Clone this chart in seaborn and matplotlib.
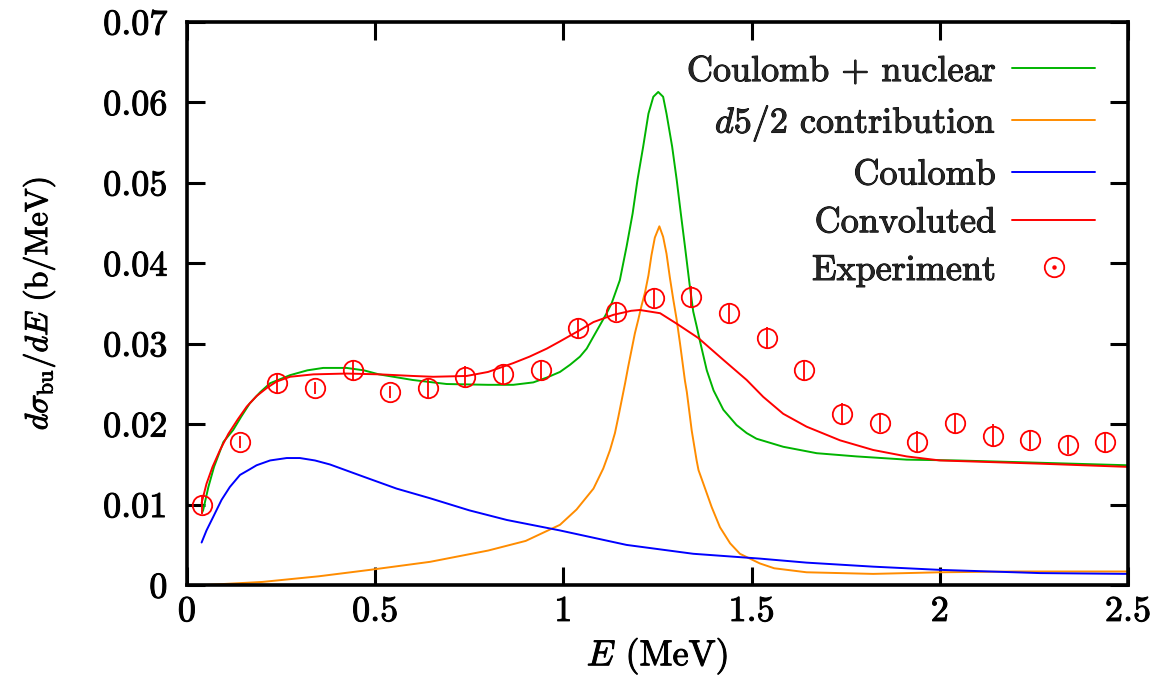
import numpy as np
import pandas as pd
import matplotlib
matplotlib.use("Agg")
import matplotlib.pyplot as plt
import matplotlib.patheffects as pe
import seaborn as sns
from matplotlib.lines import Line2D
from matplotlib.legend_handler import HandlerTuple

# ---- data -------------------------------------------------------------
# Coulomb + nuclear breakup (green)
cn_E = [0.040, 0.043, 0.057, 0.072, 0.097, 0.123, 0.145, 0.167, 0.195,
        0.221, 0.274, 0.320, 0.362, 0.424, 0.470, 0.510, 0.600, 0.690,
        0.800, 0.867, 0.920, 0.956, 0.991, 1.018, 1.044, 1.062, 1.080,
        1.097, 1.115, 1.128, 1.150, 1.168, 1.184, 1.197, 1.212, 1.226,
        1.239, 1.252, 1.265, 1.274, 1.289, 1.301, 1.312, 1.323, 1.335,
        1.345, 1.354, 1.363, 1.381, 1.399, 1.425, 1.460, 1.487, 1.513,
        1.584, 1.673, 1.779, 1.912, 2.045, 2.200, 2.350, 2.500]
cn_sig = [0.0090, 0.0093, 0.0122, 0.0147, 0.0178, 0.0193, 0.0210, 0.0226,
          0.0240, 0.0251, 0.0261, 0.0267, 0.0270, 0.0270, 0.0267, 0.0262,
          0.0255, 0.0250, 0.0249, 0.0249, 0.0252, 0.0258, 0.0265, 0.0274,
          0.0284, 0.0294, 0.0309, 0.0323, 0.0338, 0.0350, 0.0379, 0.0421,
          0.0462, 0.0504, 0.0545, 0.0586, 0.0607, 0.0613, 0.0607, 0.0586,
          0.0545, 0.0504, 0.0462, 0.0421, 0.0375, 0.0340, 0.0322, 0.0303,
          0.0267, 0.0242, 0.0218, 0.0199, 0.0189, 0.0182, 0.0172, 0.0164,
          0.0160, 0.0156, 0.0155, 0.0153, 0.0151, 0.0149]

# d5/2 resonance contribution (orange)
d52_E = [0.040, 0.200, 0.350, 0.486, 0.646, 0.800, 0.900, 0.991, 1.035,
         1.080, 1.106, 1.124, 1.137, 1.146, 1.155, 1.164, 1.172, 1.181,
         1.190, 1.199, 1.208, 1.217, 1.226, 1.234, 1.243, 1.255, 1.265,
         1.274, 1.283, 1.292, 1.301, 1.310, 1.323, 1.328, 1.341, 1.354,
         1.359, 1.372, 1.394, 1.416, 1.443, 1.469, 1.522, 1.560, 1.646,
         1.823, 2.000, 2.200, 2.500]
d52_sig = [0.0000, 0.0004, 0.0011, 0.0019, 0.0029, 0.0043, 0.0055, 0.0075,
           0.0094, 0.0120, 0.0145, 0.0168, 0.0189, 0.0209, 0.0230, 0.0251,
           0.0271, 0.0292, 0.0313, 0.0330, 0.0348, 0.0364, 0.0385, 0.0410,
           0.0432, 0.0446, 0.0433, 0.0412, 0.0382, 0.0355, 0.0330, 0.0300,
           0.0254, 0.0240, 0.0192, 0.0155, 0.0143, 0.0126, 0.0097, 0.0072,
           0.0052, 0.0039, 0.0027, 0.0021, 0.0016, 0.0014, 0.0016, 0.0017,
           0.0017]

# pure Coulomb breakup (blue)
c_E = [0.039, 0.052, 0.070, 0.092, 0.114, 0.141, 0.167, 0.185, 0.221,
       0.265, 0.300, 0.340, 0.380, 0.468, 0.557, 0.646, 0.750, 0.850,
       0.991, 1.168, 1.345, 1.522, 1.646, 1.823, 2.000, 2.266, 2.500]
c_sig = [0.0053, 0.0068, 0.0085, 0.0106, 0.0122, 0.0137, 0.0144, 0.0149,
         0.0155, 0.0158, 0.0158, 0.0155, 0.0150, 0.0135, 0.0120, 0.0108,
         0.0093, 0.0081, 0.0068, 0.0050, 0.0039, 0.0033, 0.0028, 0.0023,
         0.0019, 0.0015, 0.0014]

# folded with detector resolution (red)
conv_E = [0.039, 0.052, 0.068, 0.088, 0.110, 0.135, 0.159, 0.185, 0.212,
          0.238, 0.274, 0.336, 0.424, 0.513, 0.600, 0.654, 0.743, 0.800,
          0.867, 0.910, 0.956, 0.991, 1.044, 1.080, 1.133, 1.180, 1.203,
          1.257, 1.301, 1.359, 1.425, 1.487, 1.531, 1.584, 1.646, 1.735,
          1.823, 1.912, 2.000, 2.266, 2.500]
conv_sig = [0.0102, 0.0126, 0.0147, 0.0168, 0.0188, 0.0206, 0.0222, 0.0235,
            0.0245, 0.0253, 0.0259, 0.0262, 0.0263, 0.0262, 0.0260, 0.0259,
            0.0260, 0.0265, 0.0276, 0.0284, 0.0294, 0.0303, 0.0317, 0.0327,
            0.0336, 0.0341, 0.0342, 0.0338, 0.0325, 0.0307, 0.0280, 0.0255,
            0.0234, 0.0213, 0.0197, 0.0180, 0.0168, 0.0160, 0.0155, 0.0151,
            0.0147]

# measured spectrum
exp_E = [0.04, 0.14, 0.24, 0.34, 0.44, 0.54, 0.64, 0.74, 0.84, 0.94, 1.04,
         1.14, 1.24, 1.34, 1.44, 1.54, 1.64, 1.74, 1.84, 1.94, 2.04, 2.14,
         2.24, 2.34, 2.44]
exp_sig = [0.0100, 0.0178, 0.0251, 0.0245, 0.0267, 0.0240, 0.0245, 0.0259,
           0.0262, 0.0268, 0.0319, 0.0340, 0.0357, 0.0358, 0.0338, 0.0307,
           0.0267, 0.0213, 0.0202, 0.0178, 0.0201, 0.0186, 0.0181, 0.0174,
           0.0178]
exp_err = [0.0012, 0.0008, 0.0013, 0.0008, 0.0013, 0.0008, 0.0012, 0.0013,
           0.0013, 0.0012, 0.0012, 0.0012, 0.0012, 0.0014, 0.0013, 0.0014,
           0.0012, 0.0014, 0.0012, 0.0013, 0.0012, 0.0014, 0.0012, 0.0011,
           0.0012]

curve_labels = ["Coulomb + nuclear", r"$d$5/2 contribution", "Coulomb",
                "Convoluted"]
curve_colors = ["#00b400", "#ff8c00", "#0000ff", "#ff0000"]
x_ticks = [0, 0.5, 1, 1.5, 2, 2.5]
x_ticklabels = ["0", "0.5", "1", "1.5", "2", "2.5"]
y_ticks = [0, 0.01, 0.02, 0.03, 0.04, 0.05, 0.06, 0.07]
y_ticklabels = ["0", "0.01", "0.02", "0.03", "0.04", "0.05", "0.06", "0.07"]

# ---- style ------------------------------------------------------------
sns.set_theme(style="white")
plt.rcParams["font.family"] = ["cmr10", "DejaVu Serif"]
plt.rcParams["mathtext.fontset"] = "cm"
plt.rcParams["axes.formatter.use_mathtext"] = True
plt.rcParams["axes.unicode_minus"] = False

FS = 26
heavy = [pe.withStroke(linewidth=0.7, foreground="black")]

fig = plt.figure(figsize=(11.61, 6.86), dpi=100)
ax = fig.add_axes([0.161, 0.147, 0.8106, 0.821])

frames = [
    pd.DataFrame({"E": cn_E, "sig": cn_sig}),
    pd.DataFrame({"E": d52_E, "sig": d52_sig}),
    pd.DataFrame({"E": c_E, "sig": c_sig}),
    pd.DataFrame({"E": conv_E, "sig": conv_sig}),
]
handles = []
for df, lab, col in zip(frames, curve_labels, curve_colors):
    sns.lineplot(data=df, x="E", y="sig", ax=ax, color=col, lw=1.4,
                 sort=False, estimator=None, label=lab, legend=False)
    handles.append(Line2D([], [], color=col, lw=1.4))

ax.errorbar(exp_E, exp_sig, yerr=exp_err, fmt="o", ms=14, mfc="none",
            mec="#ff0000", mew=1.3, ecolor="#ff0000", elinewidth=1.3,
            capsize=0, zorder=5)

exp_handle = (Line2D([], [], ls="none", marker="o", ms=14, mfc="none",
                     mec="#ff0000", mew=1.3),
              Line2D([], [], ls="none", marker="o", ms=2.2, mfc="#ff0000",
                     mec="#ff0000"))
handles.append(exp_handle)

ax.set_xlim(0, 2.5)
ax.set_ylim(0, 0.07)
ax.set_xticks(x_ticks)
ax.set_xticklabels(x_ticklabels)
ax.set_yticks(y_ticks)
ax.set_yticklabels(y_ticklabels)

for s in ax.spines.values():
    s.set_visible(True)
    s.set_color("black")
    s.set_linewidth(2.6)

ax.tick_params(axis="both", which="major", direction="in", length=13,
               width=2.2, color="black", labelsize=FS, labelcolor="black",
               top=True, right=True, bottom=True, left=True)
ax.tick_params(axis="y", pad=14)
ax.tick_params(axis="x", pad=8)

ax.set_xlabel(r"$E$ (MeV)", fontsize=FS, color="black", labelpad=6)
ax.set_ylabel(r"$d\sigma_{\rm bu}/dE$ (b/MeV)", fontsize=23, color="black",
              labelpad=33)

leg = ax.legend(handles, curve_labels + ["Experiment"], loc="upper right",
                bbox_to_anchor=(0.965, 0.94), frameon=False, fontsize=FS,
                markerfirst=False, handlelength=2.3, handletextpad=0.45,
                labelspacing=0.43, borderpad=0, borderaxespad=0, numpoints=1,
                handler_map={tuple: HandlerTuple(ndivide=1, pad=0)})

texts = (ax.get_xticklabels() + ax.get_yticklabels() + leg.get_texts()
         + [ax.xaxis.label, ax.yaxis.label])
for t in texts:
    t.set_path_effects(heavy)

fig.savefig("out.png", dpi=100, facecolor="white")
